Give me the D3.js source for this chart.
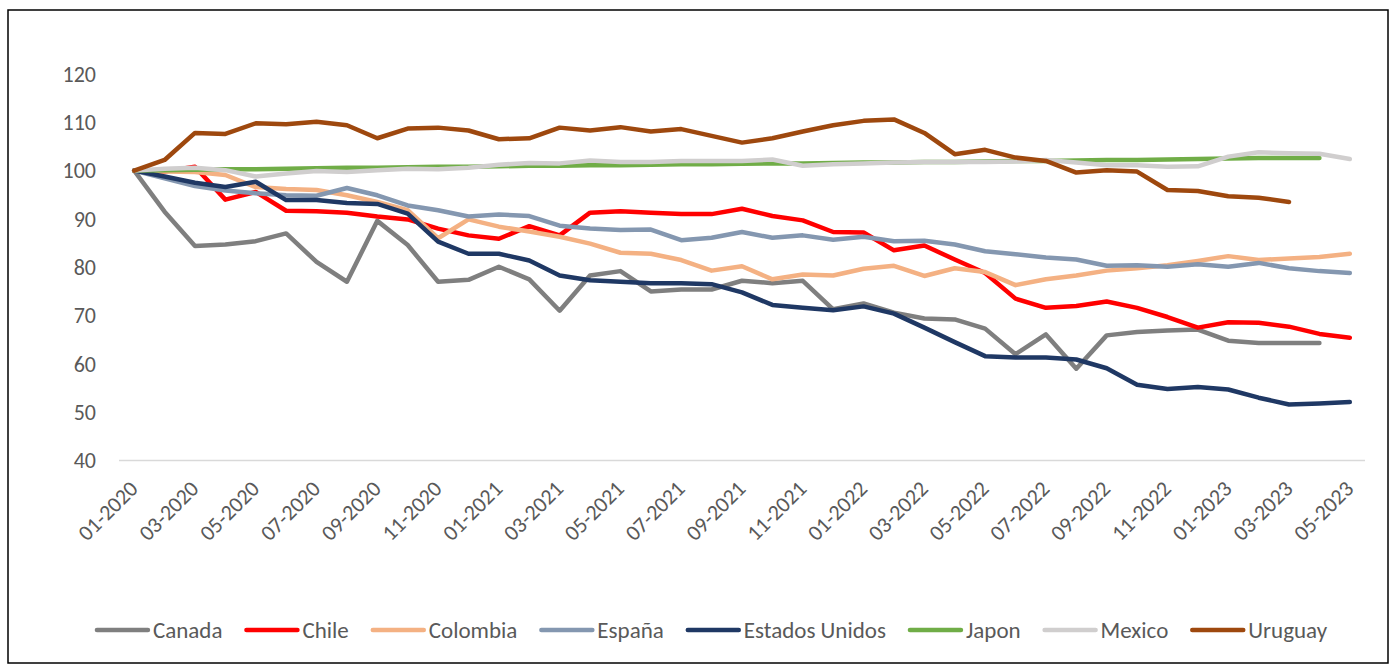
<!DOCTYPE html>
<html>
<head>
<meta charset="utf-8">
<script src="https://cdn.jsdelivr.net/npm/d3@7"></script>
<style>
  body { margin: 0; background: #fff; }
  svg { display: block; font-family: Carlito, Calibri, Lato, sans-serif; }
</style>
</head>
<body>
<svg id="chart" width="1391" height="664"></svg>
<script>
// months 01-2020 .. 05-2023
var months = [];
for (var yr = 2020; yr <= 2023; yr++) {
    for (var m = 1; m <= 12; m++) {
        if (yr === 2023 && m > 5) break;
        months.push((m < 10 ? '0' : '') + m + '-' + yr);
    }
}

var yTicks = [40, 50, 60, 70, 80, 90, 100, 110, 120];

var canada = [100, 91.5, 84.4, 84.7, 85.4, 87.0, 81.1, 77.0, 89.6, 84.6, 77.0, 77.4, 80.1, 77.5, 71.0, 78.3, 79.2, 75.0, 75.4, 75.4,
    77.2, 76.7, 77.2, 71.3, 72.5, 70.6, 69.4, 69.2, 67.3, 62.0, 66.1, 59.0, 65.9, 66.6, 66.9, 67.1, 64.8, 64.3, 64.3, 64.3];
var chile = [100, 99.8, 100.8, 94.0, 95.6, 91.7, 91.6, 91.3, 90.5, 89.9, 88.0, 86.6, 85.9, 88.5, 86.6, 91.3, 91.6, 91.3, 91.0, 91.0,
    92.1, 90.6, 89.7, 87.3, 87.2, 83.5, 84.5, 81.6, 78.8, 73.5, 71.6, 72.0, 72.9, 71.6, 69.7, 67.5, 68.6, 68.5, 67.7, 66.2, 65.4];
var colombia = [100, 99.8, 99.7, 99.1, 96.6, 96.2, 96.0, 94.9, 93.5, 91.8, 86.0, 89.9, 88.4, 87.4, 86.3, 84.9, 83.0, 82.8, 81.5, 79.3,
    80.2, 77.5, 78.5, 78.3, 79.7, 80.3, 78.2, 79.8, 79.0, 76.3, 77.5, 78.3, 79.3, 79.8, 80.4, 81.3, 82.3, 81.5, 81.8, 82.1, 82.8];
var espana = [100, 98.4, 96.8, 95.9, 95.3, 94.9, 94.8, 96.4, 94.9, 92.8, 91.8, 90.5, 90.9, 90.6, 88.6, 88.0, 87.7, 87.8, 85.6, 86.1,
    87.3, 86.1, 86.6, 85.7, 86.3, 85.4, 85.5, 84.7, 83.3, 82.7, 82.0, 81.6, 80.3, 80.4, 80.1, 80.6, 80.1, 80.9, 79.8, 79.2, 78.8];
var estadosUnidos = [100, 98.8, 97.5, 96.6, 97.7, 93.9, 93.9, 93.3, 93.1, 91.1, 85.3, 82.8, 82.8, 81.4, 78.3, 77.3, 77.0, 76.7, 76.7, 76.5,
    74.8, 72.2, 71.6, 71.1, 71.9, 70.4, 67.5, 64.5, 61.6, 61.3, 61.3, 60.9, 59.1, 55.7, 54.8, 55.2, 54.7, 53.0, 51.6, 51.8, 52.1];
var japon = [100, 100.1, 100.2, 100.3, 100.3, 100.4, 100.5, 100.6, 100.6, 100.7, 100.8, 100.8, 100.9, 101.0, 101.0, 101.1, 101.1, 101.2, 101.3, 101.3,
    101.4, 101.5, 101.5, 101.6, 101.7, 101.7, 101.8, 101.8, 101.9, 102.0, 102.0, 102.1, 102.2, 102.2, 102.3, 102.4, 102.5, 102.6, 102.6, 102.6];
var mexico = [100, 100.4, 100.6, 100.1, 98.8, 99.4, 99.9, 99.7, 100.1, 100.4, 100.3, 100.6, 101.2, 101.6, 101.5, 102.1, 101.8, 101.8, 102.0, 102.0,
    102.0, 102.3, 101.0, 101.3, 101.5, 101.7, 101.8, 101.8, 101.8, 101.9, 102.2, 101.7, 101.1, 101.1, 100.8, 100.9, 102.9, 103.8, 103.6, 103.5, 102.4];
var uruguay = [100, 102.2, 107.8, 107.6, 109.8, 109.6, 110.1, 109.4, 106.7, 108.7, 108.9, 108.3, 106.5, 106.7, 108.9, 108.3, 109.0, 108.1, 108.6, 107.2,
    105.8, 106.7, 108.1, 109.4, 110.3, 110.6, 107.8, 103.4, 104.3, 102.7, 102.0, 99.6, 100.1, 99.8, 96.0, 95.8, 94.7, 94.4, 93.5];

var seriesNames = ['Canada', 'Chile', 'Colombia', 'España', 'Estados Unidos', 'Japon', 'Mexico', 'Uruguay'];
var seriesValues = [canada, chile, colombia, espana, estadosUnidos, japon, mexico, uruguay];
var seriesColors = ['#7f7f7f', '#ff0000', '#f4b183', '#8497b0', '#1f3864', '#70ad47', '#d0cece', '#9e480e'];

var svg = d3.select('#chart');

// outer frame
svg.append('rect')
    .attr('x', 8).attr('y', 10)
    .attr('width', 1380).attr('height', 653)
    .attr('fill', 'none')
    .attr('stroke', '#000')
    .attr('stroke-width', 1.5);

var x = d3.scalePoint().domain(months).range([119, 1365]).padding(0.5);
var y = d3.scaleLinear().domain([40, 120]).range([460.5, 74]);

// y labels
svg.append('g').selectAll('text')
    .data(yTicks)
    .enter().append('text')
        .attr('x', 96)
        .attr('y', function(d) { return y(d); })
        .attr('dy', '0.35em')
        .attr('text-anchor', 'end')
        .attr('fill', '#595959')
        .style('font-size', '22px')
        .text(function(d) { return d; });

// category axis line
svg.append('line')
    .attr('x1', x.range()[0]).attr('x2', x.range()[1])
    .attr('y1', y(40)).attr('y2', y(40))
    .attr('stroke', '#d9d9d9')
    .attr('stroke-width', 1.5);

// x labels, every second month
svg.append('g').selectAll('text')
    .data(months.filter(function(d, i) { return i % 2 === 0; }))
    .enter().append('text')
        .attr('transform', function(d) { return 'translate(' + (x(d) + 5) + ',490) rotate(-45)'; })
        .attr('text-anchor', 'end')
        .attr('fill', '#595959')
        .style('font-size', '22px')
        .text(function(d) { return d; });

var line = d3.line()
    .x(function(d, i) { return x(months[i]); })
    .y(function(d) { return y(d); });

svg.append('g').selectAll('path')
    .data(seriesValues)
    .enter().append('path')
        .attr('d', line)
        .attr('fill', 'none')
        .attr('stroke', function(d, i) { return seriesColors[i]; })
        .attr('stroke-width', 4.5)
        .attr('stroke-linejoin', 'round')
        .attr('stroke-linecap', 'round');

// legend
var legend = svg.append('g');
var item = legend.selectAll('g')
    .data(seriesNames)
    .enter().append('g');

item.append('line')
    .attr('x1', 2).attr('x2', 53)
    .attr('y1', 0).attr('y2', 0)
    .attr('stroke', function(d, i) { return seriesColors[i]; })
    .attr('stroke-width', 4.5)
    .attr('stroke-linecap', 'round');

item.append('text')
    .attr('x', 58)
    .attr('dy', '0.35em')
    .attr('fill', '#595959')
    .style('font-size', '23px')
    .text(function(d) { return d; });

var offsets = [], pos = 0;
item.each(function() {
    offsets.push(pos);
    pos += 58 + this.querySelector('text').getComputedTextLength() + 22;
});
var total = pos - 22;
var startX = 711 - total / 2;
item.attr('transform', function(d, i) { return 'translate(' + (startX + offsets[i]) + ',630)'; });
</script>
</body>
</html>
